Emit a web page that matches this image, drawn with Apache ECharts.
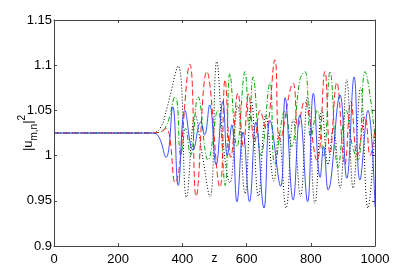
<!DOCTYPE html>
<html>
<head>
<meta charset="utf-8">
<script src="https://cdn.jsdelivr.net/npm/echarts@6/dist/echarts.min.js"></script>
<style>html,body{margin:0;padding:0;background:#fff}#c{width:415px;height:277px}</style>
</head>
<body>
<div id="c"></div>
<script>
// x ticks / y ticks
const xTicks = [0, 200, 400, 600, 800, 1000];
const yTicks = [0.9, 0.95, 1, 1.05, 1.1, 1.15];

// solid blue
const blueZ = [0, 300, 322, 349, 370, 387, 408, 433, 457, 469, 485, 505, 526, 540, 554, 570, 589, 609, 629, 654, 673, 706, 720, 745, 766, 790, 808, 829, 840, 854, 891, 912, 935, 953, 978, 1000];
const blueU = [1.025, 1.025, 1.023, 0.998, 1.054, 0.967, 1.050, 1.006, 1.037, 1.023, 1.056, 0.990, 1.060, 1.000, 1.034, 0.949, 1.026, 0.949, 1.037, 0.942, 1.039, 0.966, 1.064, 0.951, 1.045, 0.949, 1.069, 0.976, 1.010, 0.962, 1.067, 0.975, 1.087, 0.973, 1.050, 0.943];

// dashed red
const redZ = [0, 300, 330, 350, 377, 423, 443, 476, 517, 533, 551, 573, 590, 606, 625, 642, 660, 688, 704, 745, 760, 780, 819, 844, 860, 881, 906, 925, 945, 969, 985, 1000];
const redU = [1.025, 1.025, 1.026, 1.030, 0.970, 1.101, 0.955, 1.093, 0.965, 1.084, 0.998, 1.069, 1.010, 1.068, 1.015, 1.050, 1.030, 1.106, 1.017, 1.080, 1.032, 1.060, 0.995, 1.093, 1.002, 1.081, 0.990, 1.060, 1.000, 1.043, 1.000, 1.030];

// dash-dot green
const greenZ = [0, 300, 340, 377, 395, 410, 425, 449, 480, 510, 533, 548, 570, 595, 608, 620, 645, 673, 688, 720, 740, 766, 782, 800, 820, 840, 860, 885, 910, 930, 947, 969, 1000];
const greenU = [1.025, 1.025, 1.028, 1.065, 1.000, 1.030, 1.000, 1.065, 0.995, 1.050, 0.967, 1.091, 1.010, 1.093, 1.030, 1.087, 1.000, 1.081, 0.990, 1.050, 1.010, 1.084, 1.093, 1.020, 1.050, 1.000, 1.093, 0.987, 1.050, 1.010, 0.995, 1.093, 1.020];

// dotted black
const blackZ = [0, 300, 330, 352, 387, 413, 440, 460, 486, 507, 528, 548, 572, 595, 615, 637, 660, 685, 700, 723, 745, 768, 790, 813, 835, 854, 870, 891, 912, 932, 955, 978, 1000];
const blackU = [1.025, 1.025, 1.030, 1.053, 1.099, 0.954, 1.045, 1.005, 0.954, 1.104, 1.010, 0.970, 1.055, 0.958, 1.060, 0.955, 1.045, 0.972, 1.025, 0.942, 1.040, 0.955, 1.065, 0.947, 1.050, 0.990, 1.030, 0.964, 1.084, 0.964, 1.075, 0.942, 1.030];

const zip = (a, b) => a.map((v, i) => [v, b[i]]);
const FONT = '"Liberation Sans", Arial, sans-serif';
const AX = '#444';

function mkSeries(name, z, u, color, type, width) {
  return {
    name, type: 'line', data: zip(z, u), symbol: 'none', smooth: 0.45,
    lineStyle: { color, type, width }, silent: true, z: 3
  };
}

const chart = echarts.init(document.getElementById('c'), null, { renderer: 'canvas' });
chart.setOption({
  animation: false,
  backgroundColor: '#fff',
  grid: { left: 54, right: 40, top: 20, bottom: 31, containLabel: false, outerBoundsMode: 'none' },
  xAxis: [{
    type: 'value', min: 0, max: 1000, interval: 200,
    name: 'z', nameLocation: 'middle', nameGap: 7, nameMoveOverlap: false,
    nameTextStyle: { fontFamily: FONT, fontSize: 12, color: '#000', verticalAlign: 'top' },
    axisLine: { show: true, onZero: false, lineStyle: { color: AX, width: 1 } },
    axisTick: { show: true, inside: true, length: 3, lineStyle: { color: AX } },
    axisLabel: { fontFamily: FONT, fontSize: 13, color: '#000', margin: 7,
      formatter: v => { const t = xTicks.find(k => Math.abs(k - v) < 1e-9); return t === undefined ? '' : String(t); } },
    splitLine: { show: false }
  }, {
    type: 'value', position: 'top', min: 0, max: 1000, interval: 200,
    axisLine: { show: true, onZero: false, lineStyle: { color: AX, width: 1 } },
    axisTick: { show: true, inside: true, length: 3, lineStyle: { color: AX } },
    axisLabel: { show: false }, splitLine: { show: false }
  }],
  yAxis: [{
    type: 'value', min: 0.9, max: 1.15, interval: 0.05,
    name: '{a||u}{sub|m,n}{a||}{sup|2}', nameLocation: 'middle', nameGap: 15, nameRotate: 90, nameMoveOverlap: false,
    nameTextStyle: {
      fontFamily: FONT, color: '#000',
      rich: {
        a: { fontFamily: FONT, fontSize: 13, lineHeight: 22, verticalAlign: 'middle', color: '#000' },
        sub: { fontFamily: FONT, fontSize: 10, lineHeight: 11, verticalAlign: 'bottom', color: '#000' },
        sup: { fontFamily: FONT, fontSize: 10, lineHeight: 11, verticalAlign: 'top', color: '#000' }
      }
    },
    axisLine: { show: true, onZero: false, lineStyle: { color: AX, width: 1 } },
    axisTick: { show: true, inside: true, length: 3, lineStyle: { color: AX } },
    axisLabel: {
      fontFamily: FONT, fontSize: 13, color: '#000', margin: 2,
      formatter: v => { const t = yTicks.find(k => Math.abs(k - v) < 1e-9); return t === undefined ? '' : String(t); }
    },
    splitLine: { show: false }
  }, {
    type: 'value', position: 'right', min: 0.9, max: 1.15, interval: 0.05,
    axisLine: { show: true, onZero: false, lineStyle: { color: AX, width: 1 } },
    axisTick: { show: true, inside: true, length: 3, lineStyle: { color: AX } },
    axisLabel: { show: false }, splitLine: { show: false }
  }],
  series: [
    mkSeries('black', blackZ, blackU, '#000000', [1, 2], 1),
    mkSeries('green', greenZ, greenU, '#00aa00', [5, 2, 1, 2], 1),
    mkSeries('red', redZ, redU, '#ff2020', [6, 3], 1),
    mkSeries('blue', blueZ, blueU, '#2a3cff', 'solid', 0.9)
  ]
});
</script>
</body>
</html>
